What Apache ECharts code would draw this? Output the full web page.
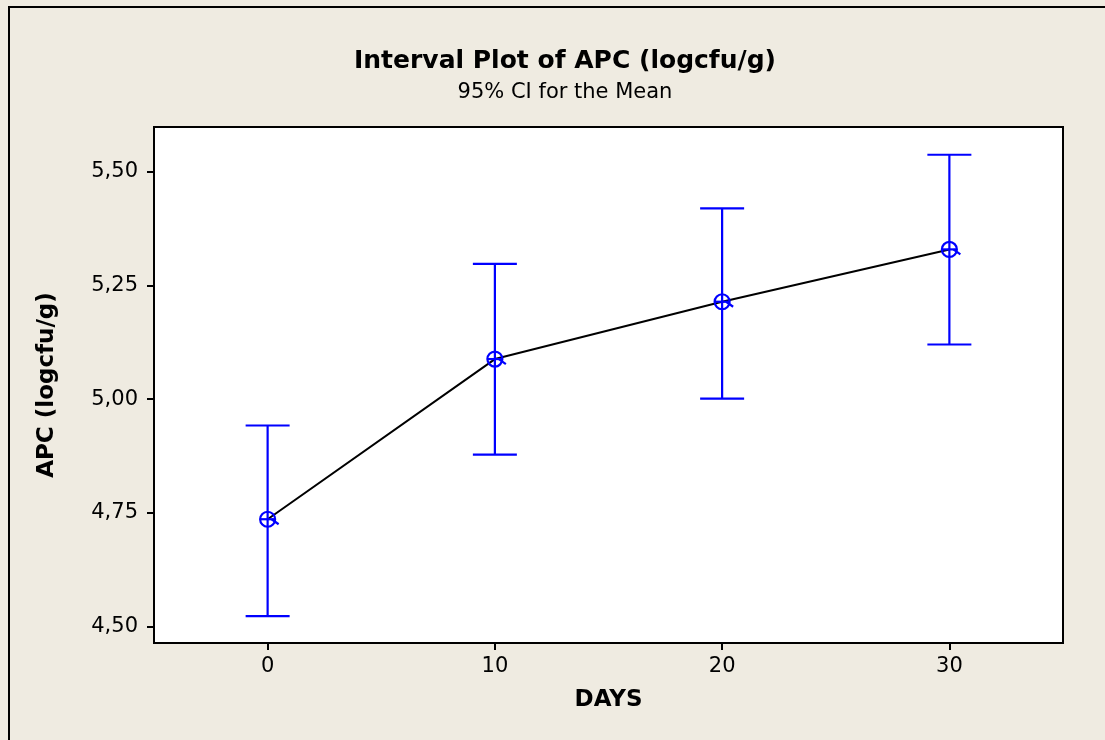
<!DOCTYPE html>
<html>
<head>
<meta charset="utf-8">
<title>Interval Plot of APC</title>
<script src="https://cdn.jsdelivr.net/npm/echarts@6/dist/echarts.min.js"></script>
<style>
  html, body { margin: 0; padding: 0; background: #efebe1; }
  #chart { width: 1105px; height: 740px; }
</style>
</head>
<body>
<div id="chart"></div>
<script>
// days and 95% CI of the mean
const days = [0, 10, 20, 30];
const means = [4.736, 5.088, 5.214, 5.329];
const lower = [4.523, 4.878, 5.001, 5.120];
const upper = [4.942, 5.297, 5.419, 5.537];

const xTicks = [0, 10, 20, 30];
const yTicks = [4.5, 4.75, 5.0, 5.25, 5.5];

const blue = '#0000ff';
const font = "'DejaVu Sans', Verdana, sans-serif";

const myChart = echarts.init(document.getElementById('chart'));

// mean line points and interval rows for the custom series
const meanData = days.map((d, i) => [d, means[i]]);
const ciData = days.map((d, i) => [d, means[i], lower[i], upper[i]]);

function renderInterval(params, api) {
  const x = api.value(0);
  const mid = api.coord([x, api.value(1)]);
  const lo = api.coord([x, api.value(2)]);
  const hi = api.coord([x, api.value(3)]);
  const cap = 22;
  const r = 7.5;
  const style = { stroke: blue, lineWidth: 2.2, fill: null };
  return {
    type: 'group',
    children: [
      { type: 'line', shape: { x1: lo[0], y1: lo[1], x2: hi[0], y2: hi[1] }, style: style },
      { type: 'line', shape: { x1: hi[0] - cap, y1: hi[1], x2: hi[0] + cap, y2: hi[1] }, style: style },
      { type: 'line', shape: { x1: lo[0] - cap, y1: lo[1], x2: lo[0] + cap, y2: lo[1] }, style: style },
      { type: 'circle', shape: { cx: mid[0], cy: mid[1], r: r }, style: style },
      { type: 'line', shape: { x1: mid[0] - r, y1: mid[1], x2: mid[0] + r, y2: mid[1] }, style: style },
      // little tail of the minitab symbol
      { type: 'line', shape: { x1: mid[0] + 4, y1: mid[1], x2: mid[0] + 11, y2: mid[1] + 5 }, style: style }
    ]
  };
}

const option = {
  backgroundColor: '#efebe1',
  animation: false,
  title: {
    text: 'Interval Plot of APC (logcfu/g)',
    subtext: '95% CI for the Mean',
    left: 560,
    top: 44,
    textAlign: 'center',
    itemGap: 8,
    textStyle: { fontFamily: font, fontSize: 25, fontWeight: 'bold', color: '#000' },
    subtextStyle: { fontFamily: font, fontSize: 21, color: '#000' }
  },
  graphic: [
    {
      type: 'rect',
      shape: { x: 9, y: 7, width: 1200, height: 1000 },
      style: { fill: null, stroke: '#000', lineWidth: 2 },
      silent: true
    }
  ],
  grid: {
    left: 154,
    top: 127,
    right: 42,
    bottom: 97,
    show: true,
    backgroundColor: '#fff',
    borderColor: '#000',
    borderWidth: 2
  },
  xAxis: {
    type: 'value',
    min: -5,
    max: 35,
    name: 'DAYS',
    nameLocation: 'middle',
    nameGap: 46,
    nameTextStyle: { fontFamily: font, fontSize: 23, fontWeight: 'bold', color: '#000' },
    splitLine: { show: false },
    axisLine: { show: true, lineStyle: { color: '#000', width: 2 } },
    axisTick: { show: true, length: 7, customValues: xTicks, lineStyle: { color: '#000', width: 2 } },
    axisLabel: {
      customValues: xTicks,
      margin: 13,
      fontFamily: font,
      fontSize: 21,
      color: '#000'
    }
  },
  yAxis: {
    type: 'value',
    min: 4.464,
    max: 5.598,
    name: 'APC (logcfu/g)',
    nameLocation: 'middle',
    nameGap: 95,
    nameTextStyle: { fontFamily: font, fontSize: 23, fontWeight: 'bold', color: '#000' },
    splitLine: { show: false },
    axisLine: { show: true, onZero: false, lineStyle: { color: '#000', width: 2 } },
    axisTick: { show: true, length: 7, customValues: yTicks, lineStyle: { color: '#000', width: 2 } },
    axisLabel: {
      customValues: yTicks,
      margin: 16,
      fontFamily: font,
      fontSize: 21,
      color: '#000',
      formatter: (v) => v.toFixed(2).replace('.', ',')
    }
  },
  series: [
    {
      type: 'line',
      data: meanData,
      showSymbol: false,
      lineStyle: { color: '#000', width: 2 },
      z: 2
    },
    {
      type: 'custom',
      data: ciData,
      renderItem: renderInterval,
      encode: { x: 0, y: [1, 2, 3] },
      z: 3
    }
  ]
};

myChart.setOption(option);

window.addEventListener('resize', () => {
  myChart.resize();
});
</script>
</body>
</html>
